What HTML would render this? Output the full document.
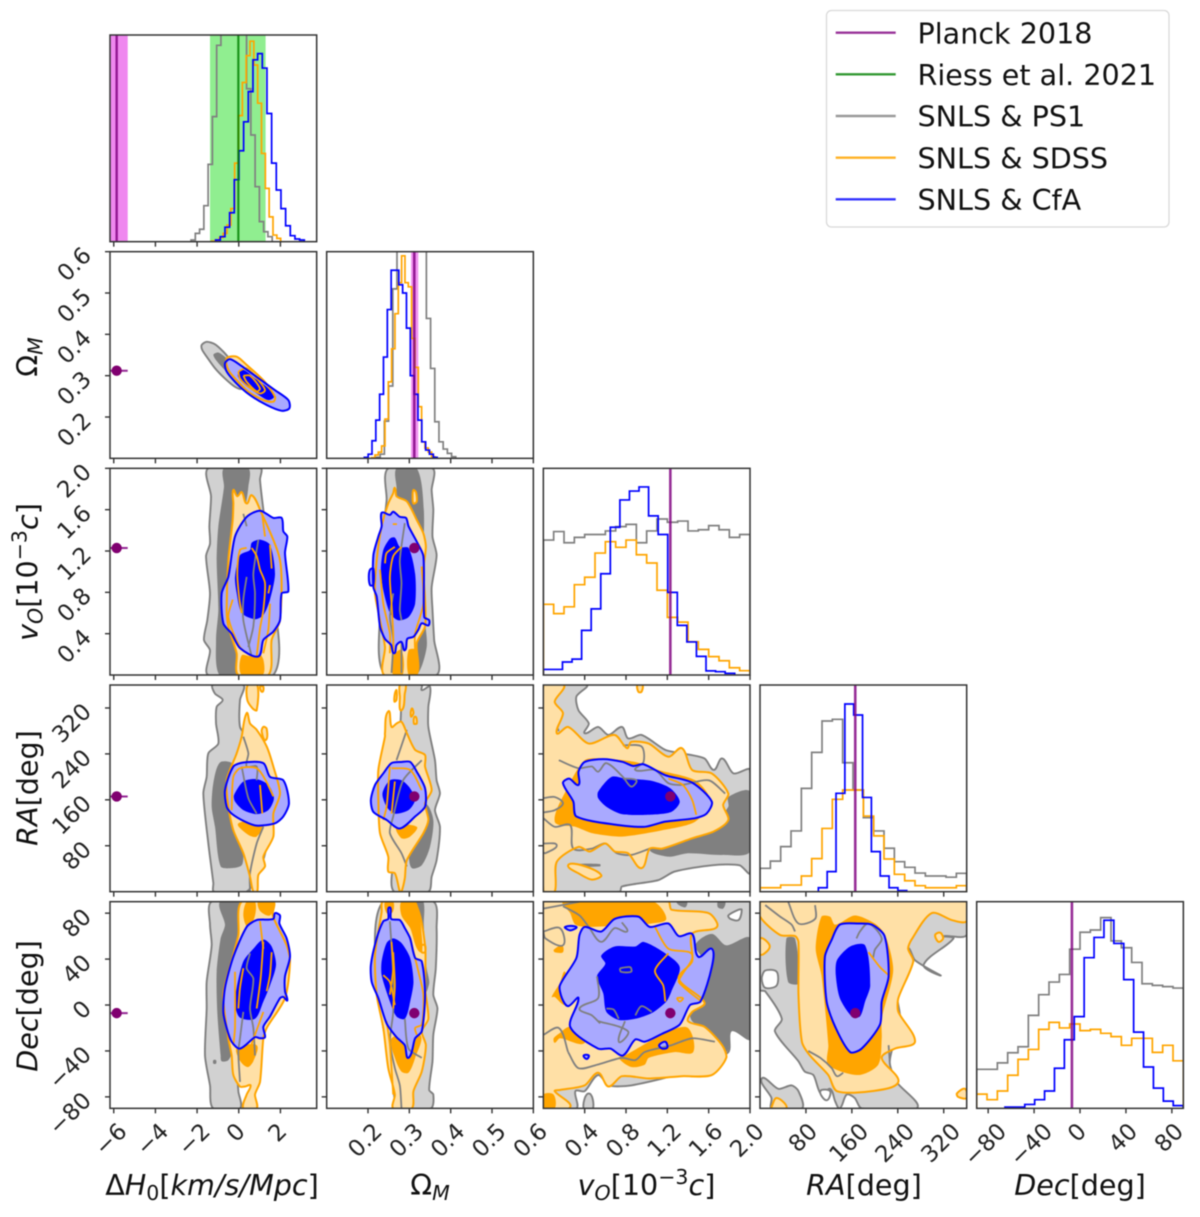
<!DOCTYPE html>
<html lang="en">
<head>
<meta charset="utf-8">
<title>Corner plot of cosmological parameters</title>
<style>
html,body{margin:0;padding:0;background:#fff;}
svg{display:block;font-family:"DejaVu Sans","Liberation Sans",sans-serif;filter:blur(0.4px);}
</style>
</head>
<body>
<svg id="corner-plot" xmlns="http://www.w3.org/2000/svg" width="1200" height="1217" viewBox="0 0 1200 1217">
<rect x="0" y="0" width="1200" height="1217" fill="#ffffff"/>
<g id="plots"></g>

<g font-size="28.6" fill="#111" text-anchor="middle">
<text x="212" y="1195">Δ<tspan font-style="italic">H</tspan><tspan font-size="20.5" dy="5">0</tspan><tspan dy="-5">[</tspan><tspan font-style="italic">km</tspan><tspan font-style="italic">/s/Mpc</tspan>]</text>
<text x="430" y="1195">Ω<tspan font-size="20.5" dy="5" font-style="italic">M</tspan></text>
<text x="646.5" y="1195"><tspan font-style="italic">v</tspan><tspan font-size="20.5" dy="5" font-style="italic">O</tspan><tspan dy="-5">[10</tspan><tspan font-size="20.5" dy="-11">−3</tspan><tspan dy="11" font-style="italic">c</tspan>]</text>
<text x="864" y="1195"><tspan font-style="italic">RA</tspan>[deg]</text>
<text x="1080" y="1195"><tspan font-style="italic">Dec</tspan>[deg]</text>
</g>

<g font-size="28.6" fill="#111" text-anchor="middle">
<text transform="translate(37.5,357) rotate(-90)">Ω<tspan font-size="20.5" dy="5" font-style="italic">M</tspan></text>
<text transform="translate(37.5,572) rotate(-90)"><tspan font-style="italic">v</tspan><tspan font-size="20.5" dy="5" font-style="italic">O</tspan><tspan dy="-5">[10</tspan><tspan font-size="20.5" dy="-11">−3</tspan><tspan dy="11" font-style="italic">c</tspan>]</text>
<text transform="translate(37.5,788) rotate(-90)"><tspan font-style="italic">RA</tspan>[deg]</text>
<text transform="translate(37.5,1006) rotate(-90)"><tspan font-style="italic">Dec</tspan>[deg]</text>
</g>

<g>
<rect x="826.5" y="10.5" width="342.5" height="216.5" rx="5" ry="5" fill="#ffffff" stroke="#d9d9d9" stroke-width="1.3"/>
<g>
<line x1="835.7" x2="895.7" y1="32.7" y2="32.7" stroke="#800080" stroke-opacity="0.8" stroke-width="2.4"/>
<text x="917.5" y="43.3" font-size="28.6" fill="#111">Planck 2018</text>
</g>
<g>
<line x1="835.7" x2="895.7" y1="74.3" y2="74.3" stroke="#008000" stroke-opacity="0.8" stroke-width="2.4"/>
<text x="917.5" y="85" font-size="28.6" fill="#111">Riess et al. 2021</text>
</g>
<g>
<line x1="835.7" x2="895.7" y1="116" y2="116" stroke="#808080" stroke-opacity="0.8" stroke-width="2.4"/>
<text x="917.5" y="126.6" font-size="28.6" fill="#111">SNLS &amp; PS1</text>
</g>
<g>
<line x1="835.7" x2="895.7" y1="157.7" y2="157.7" stroke="#ffa500" stroke-opacity="0.85" stroke-width="2.4"/>
<text x="917.5" y="168.3" font-size="28.6" fill="#111">SNLS &amp; SDSS</text>
</g>
<g>
<line x1="835.7" x2="895.7" y1="199.3" y2="199.3" stroke="#0000ff" stroke-opacity="0.8" stroke-width="2.4"/>
<text x="917.5" y="210" font-size="28.6" fill="#111">SNLS &amp; CfA</text>
</g>
</g>
</svg>

<script>
/* ---------- axis ranges and ticks ---------- */
const h0Range=[-6.18,3.74];
const omRange=[0.1,0.6];
const vRange=[0,2];
const raRange=[0,360];
const decRange=[-90,90];
const h0Ticks=[-6,-4,-2,0,2];
const omTicks=[0.2,0.3,0.4,0.5,0.6];
const vTicks=[0.4,0.8,1.2,1.6,2.0];
const raTicks=[80,160,240,320];
const decTicks=[-80,-40,0,40,80];
const h0TickLabels=['−6','−4','−2','0','2'];
const omTickLabels=['0.2','0.3','0.4','0.5','0.6'];
const vTickLabels=['0.4','0.8','1.2','1.6','2.0'];
const raTickLabels=['80','160','240','320'];
const decTickLabels=['−80','−40','0','40','80'];

/* ---------- reference values ---------- */
const planckValues=[-5.86,0.312,1.229,165.9,-7.06];
const planckH0Band=[-6.39,-5.33];
const planckOmBand=[0.304,0.3217];
const riessH0Value=[-0.02];
const riessH0Band=[-1.38,1.29];

/* ---------- 1D histograms: first bin edge, bin width, heights in % of panel ---------- */
const h0GrayBins=[-2.29,0.205];
const h0Gray=[0.8,4,6,17.4,37.4,60.5,95,115,120,125,125,120,115,74,51.6,26.6,9.7,4.8,2.4];
const h0OrangeBins=[-1.3,0.184];
const h0Orange=[0.3,0.8,2,4,8,16,38,61,77,90,97,85.5,67,42.7,25.8,12,3.2,1.6];
const h0BlueBins=[-1.11,0.224];
const h0Blue=[0.8,2.4,7,14,30,44,58,72.6,88,91,84,62,38,25,16,7.7,2.9,1.3,0.8];

const omGrayBins=[0.2193,0.01016];
const omGray=[0.5,2,18,35,82,110,115,120,120,120,115,110,67.7,43.5,17.7,8,4.5,2.4,0.8];
const omOrangeBins=[0.2088,0.00806];
const omOrange=[0.3,1.6,3,6,19,37,53,70,85,98,85,83,58,44,25,8,5,3,0.8];
const omBlueBins=[0.1911,0.00927];
const omBlue=[0.5,2,8.5,18.5,31,49,72,91,91,84,80,63,40,31,18.5,8,4,2,0.5];

const vGrayBins=[0,0.1];
const vGray=[65.3,69.4,64,66.6,68,68,69.7,71.8,72.9,64,69.7,75.5,73.9,74.5,69.7,70.3,72.3,70.3,66.6,68];
const vOrangeBins=[0,0.1];
const vOrange=[34.2,29.7,33,43.7,47.3,59,64.5,61.8,65.3,58.2,54.2,41,27.9,25.6,16.1,12.4,8.9,6.9,3.5,2.1];
const vBlueBins=[0,0.0926];
const vBlue=[2.7,2.7,6.3,7.7,21.6,32,49,71.5,84.7,89,91,77,68,40,24,16,9,2,1.6,0.8];

const raGrayBins=[0,18];
const raGray=[11.3,14.8,21.8,29.4,50,67.4,82.6,83.4,62.4,49.2,35.8,29.4,21,14.5,11.8,9,7.6,7.6,7,8.9];
const raOrangeBins=[0,18];
const raOrange=[1.9,1.9,3.2,3.2,7.6,16,30.6,44.7,49.2,49.2,36.6,27,15.8,8.4,5.3,2.9,1.9,1.9,1.9,2.9];
const raBlueBins=[101.6,15.4];
const raBlue=[1.9,9.7,47.6,90.8,85.5,45.6,19.4,7.6,1.9,0.5];

const decGrayBins=[-90,9];
const decGray=[18.9,18.9,22,26.9,29.8,45,55,61.1,64.8,77,85.2,86.3,92.3,81,77.7,70.6,60.3,59.5,58.9,58.2];
const decOrangeBins=[-90,9];
const decOrange=[6.9,4.2,8.4,16,23.7,28.5,38.2,41.6,38.9,40.8,37.6,38.2,36.3,34.7,30.5,33.9,33.9,27.1,30.5,23];
const decBlueBins=[-65.35,8.62];
const decBlue=[0.6,0.6,1.9,4.2,8.4,19.4,33.2,44.4,72.9,82.7,91,79.8,62.3,36.9,20,9.8,3.5,1.3];

/* ---------- 2D contours: flat x,y pairs in data units ---------- */
/* Omega vs H0 */
const h0Om_g1=[-1.78,.374,-1.54,.382,-1.14,.376,-.74,.358,-.34,.334,.06,.305,.14,.269,-.18,.273,-.66,.293,-1.14,.318,-1.54,.346,-1.75,.362];
const h0Om_g2=[-1.22,.35,-.98,.356,-.5,.338,-.1,.31,-.02,.281,-.5,.305,-.9,.326];
const h0Om_o1=[-.58,.342,-.1,.346,.38,.326,1.18,.289,1.74,.249,1.66,.237,1.18,.241,.46,.261,-.1,.289,-.5,.314];
const h0Om_b1=[-.66,.33,-.42,.34,.06,.326,.86,.297,1.74,.265,2.38,.241,2.43,.221,2.06,.215,1.34,.229,.54,.253,-.1,.281,-.58,.31];
const h0Om_b2=[-.05,.301,.22,.314,.78,.293,1.34,.273,1.69,.249,1.42,.241,.86,.257,.22,.281];
const h0Om_oL1=[-.02,.31,.38,.318,.94,.289,1.26,.265,1.02,.257,.46,.273,.06,.293,-.02,.31];
const h0Om_oL2=[.22,.3,.54,.3,1.02,.269,.86,.262,.38,.285,.22,.3];

/* velocity vs H0 */
const h0V_g1=[-1.46,2,-1.33,1.73,-1.41,1.44,-1.38,1.27,-1.57,1.15,-1.38,.79,-1.51,.53,-1.67,.34,-1.38,.24,-1.46,0,1.66,0,1.66,.79,1.18,1.6,1.02,1.89,1.05,2];
const h0V_g2=[-.71,2,-.71,1.82,-.98,1.44,-1.06,1.11,-.98,.63,-1.09,.34,-.93,0,.06,0,.38,.79,.22,1.44,.46,1.82,.46,2];
const h0V_o1=[-.26,1.79,-.07,1.73,.14,1.77,.38,1.66,.62,1.74,1.02,1.6,1.98,1.11,1.98,.53,1.58,.34,1.42,0,-.02,0,-.1,.21,-.5,.47,-.58,.63,-.5,1.11,-.29,1.5,-.26,1.66];
const h0V_o2=[.14,0,.14,.19,.62,.18,.86,.23,1.18,.15,1.14,0];
const h0V_b1=[1.02,1.59,1.66,1.52,2.06,1.52,2.14,1.39,2.33,1.34,2.22,1.18,2.38,.81,2.06,.79,1.98,.53,1.66,.42,1.18,.34,.94,.18,.06,.26,-.34,.4,-.74,.5,-.82,.79,-.5,.95,-.18,1.34,.38,1.53];
const h0V_b2=[.62,1.28,1.02,1.31,1.5,1.26,1.74,.98,1.5,.73,1.18,.58,.78,.54,.14,.6,-.1,.79,-.18,.95,.06,1.16,.54,1.21];
const h0V_oL1=[.62,1.23,.86,1.15,1.02,1.02,1.26,.89,1.18,.63,1.02,.45,.86,.18];
const h0V_oL2=[1.5,1.26,1.58,1.03];
const h0V_oL3=[1.5,.87,1.42,.79];
const h0V_oL4=[.38,1.23,.06,1.21,-.07,.98,.03,.73,.14,.6];
const h0V_oL5=[-.29,.73,-.5,.56,.06,.27,.62,.18];
const h0V_oL6=[1.5,.69,1.42,.44,1.18,.21];
const h0V_oL7=[1.13,1.55,1.26,1.34];
const h0V_gL1=[.94,1.31,.7,.98,.78,.79,.7,.47,.46,.27];
const h0V_gL2=[.38,.95,.22,.73,.22,.53,.62,.18];
const h0V_gL3=[.22,1.56,.38,1.44];

/* velocity vs Omega */
const omV_g1=[.249,2,.245,1.69,.229,1.11,.229,.63,.241,0,.366,0,.36,.34,.356,.63,.354,.85,.366,1.16,.356,1.34,.358,1.6,.354,1.79,.356,2];
const omV_g2=[.269,2,.269,1.79,.237,1.11,.245,.47,.277,0,.318,0,.342,.27,.338,.53,.334,1.11,.335,1.6,.318,2];
const omV_o1=[.265,1.81,.269,1.73,.294,1.68,.318,1.5,.334,1.37,.34,1.24,.334,1.02,.338,.73,.338,.47,.318,.31,.316,0,.239,0,.241,.27,.229,.53,.217,.79,.221,1.11,.233,1.44,.249,1.66,.261,1.76];
const omV_o3=[.31,1.79,.316,1.77,.318,1.68,.31,1.66,.308,1.73];
const omV_o2a=[.26,.18,.261,0,.284,0,.281,.24];
const omV_o2b=[.298,.24,.298,0,.318,0,.318,.24];
const omV_b1=[.233,1.57,.253,1.55,.261,1.58,.277,1.53,.292,1.52,.298,1.44,.318,1.29,.334,1.15,.336,.56,.348,.53,.346,.48,.33,.5,.322,.44,.31,.37,.295,.35,.289,.24,.281,.32,.269,.29,.263,.21,.256,.29,.241,.35,.229,.47,.221,.76,.213,.85,.213,1.16,.225,1.34,.233,1.44];
const omV_b3=[.205,1.02,.213,1.03,.213,.87,.205,.87,.202,.95];
const omV_b2=[.253,1.32,.265,1.33,.277,1.24,.298,1.23,.314,.98,.314,.69,.298,.56,.273,.53,.253,.6,.237,.82,.231,1.02,.237,1.21];
const omV_oL1=[.281,1.24,.261,1.15,.253,.95,.257,.69,.261,.4,.261,.21];
const omV_oL2=[.241,1.08,.245,1.18,.265,1.24];
const omV_oL3=[.229,1.02,.237,.69,.253,.4,.253,.21];
const omV_oL4=[.33,1.05,.334,.69,.314,.4,.314,.21];
const omV_oL5=[.26,1.46,.27,1.46];
const omV_gL1=[.289,1.47,.277,1.11,.281,.89,.277,.63,.281,.53];
const omV_gL2=[.261,.79,.253,.56,.261,.34,.257,.02];
const omV_gL3=[.281,.32,.281,.02];

/* RA vs H0 */
const h0Ra_g1=[-1.25,360,-1.14,345,-.77,334,-1.06,322,-1.09,293,-.98,258,-1.46,241,-1.54,200,-1.7,171,-1.46,84,-1.22,15,-1.19,0,.38,0,1.18,55,1.66,171,.38,270,.06,287,.06,334,.22,360];
const h0Ra_g2=[-.9,225,-.26,222,.06,171,.22,67,.14,46,-.34,41,-.87,44,-1.14,113,-1.3,148,-1.22,189];
const h0Ra_o1=[.38,311,.54,293,.86,282,1.34,253,1.66,218,1.98,171,1.66,136,1.66,96,1.18,61,1.26,44,.94,29,.89,0,.7,0,.54,26,.22,67,-.26,107,-.5,148,-.58,194,-.1,241,.14,270];
const h0Ra_o3=[.43,360,.89,360,.86,316,.67,319,.41,334];
const h0Ra_o4=[1.18,287,1.34,284,1.29,264,1.1,279];
const h0Ra_o5=[1.02,357,1.18,357,1.13,348];
const h0Ra_o2=[-.02,119,1.18,119,.86,96,.46,99];
const h0Ra_b1=[-.66,177,-.26,218,.22,225,1.18,224,1.5,200,2.14,194,2.41,154,2.14,131,1.74,119,.86,115,.3,122,-.34,136,-.58,148];
const h0Ra_b2=[-.23,168,.22,192,.86,196,1.42,186,1.69,163,1.42,142,.86,135,.22,142,-.18,157];
const h0Ra_oL1=[-.34,142,-.26,200,.06,215,.86,215,1.29,194,1.66,166];
const h0Ra_oL2=[1.02,186,1.13,136];
const h0Ra_gL1=[.22,270,.46,241,.38,218,.86,218,.86,194];
const h0Ra_gL2=[.14,218,.46,163,.86,136];
const h0Ra_gL3=[1.18,113,.86,84,.54,32,.54,0];

/* RA vs Omega */
const omRa_g1=[.289,360,.33,360,.33,351,.35,357,.346,322,.346,287,.362,229,.366,194,.374,171,.362,142,.374,113,.366,55,.354,26,.346,0,.263,0,.261,61,.245,84,.225,171,.253,258,.277,287,.281,345];
const omRa_g2=[.338,154,.358,125,.35,78,.33,46,.306,41,.298,61,.277,113,.277,142];
const omRa_o1=[.249,314,.257,287,.269,293,.281,296,.294,276,.314,247,.338,238,.338,218,.354,177,.338,154,.346,125,.334,102,.294,55,.289,23,.281,0,.277,0,.265,32,.249,35,.249,61,.229,102,.225,160,.225,212,.241,270,.241,276];
const omRa_o3=[.269,351,.269,334,.264,331,.265,345];
const omRa_o4=[.306,319,.31,311,.304,305];
const omRa_o5=[.314,305,.318,293,.311,293];
const omRa_o6=[.277,360,.291,360,.289,345,.281,316,.277,340];
const omRa_o2=[.269,113,.318,113,.302,96,.281,93];
const omRa_b1=[.207,160,.217,186,.237,206,.257,224,.281,226,.302,226,.318,209,.338,180,.338,148,.314,131,.277,110,.245,125,.213,139];
const omRa_b2=[.235,171,.253,194,.281,194,.302,180,.314,160,.298,142,.265,136,.245,148];
const omRa_oL1=[.253,218,.245,148,.237,125];
const omRa_oL2=[.265,192,.257,136];
const omRa_oL3=[.257,215,.302,212,.33,177];
const omRa_gL1=[.33,229,.285,194,.261,131,.253,102,.281,67,.294,44];
const omRa_gL2=[.294,282,.269,229];

/* Dec vs H0 */
const h0Dec_g1=[-1.3,90,-1.38,70,-1.3,52,-1.54,20,-1.54,-3,-1.62,-44,-1.38,-70,-1.22,-90,.06,-90,-.02,-75,-.02,-58,.86,-35,1.34,38,1.02,90];
const h0Dec_g2=[-.9,90,-.66,70,-.87,58,-1.06,29,-1.03,-6,-.87,-44,-.82,-49,-.5,-48,-.26,-38,-.26,38,.22,67,.22,90];
const h0Dec_g3=[-1.22,-48,-1.09,-48,-1.09,-51,-1.22,-51];
const h0Dec_o1=[.14,90,1.66,90,1.63,78,2.3,52,2.46,38,2.22,6,1.34,-20,1.18,-29,1.02,-67,.78,-78,.86,-90,.22,-90,.38,-78,.57,-70,.3,-71,.06,-71,-.26,-61,-.34,-44,-.5,-29,-.74,9,-.26,44,-.02,61];
const h0Dec_o2a=[.38,90,.78,90,.78,78,.46,68,.22,78];
const h0Dec_o2b=[.94,90,1.66,90,1.5,78,1.02,82];
const h0Dec_o2c=[-.1,-38,.86,-35,.7,-49,.46,-54,.22,-52,-.02,-46];
const h0Dec_b1=[1.74,80,1.98,78,1.95,71,2.3,58,2.46,42,2.22,25,2.22,12,2.33,4,2.14,7,1.98,6,1.5,-10,1.18,-19,1.26,-28,1.02,-29,.78,-28,.06,-38,-.34,-32,-.58,-20,-.74,-6,-.66,15,-.26,42,.38,68,.86,74,1.66,75];
const h0Dec_b2=[1.18,57,1.58,51,1.79,35,1.5,17,1.18,3,.78,-12,.06,-11,-.18,0,-.1,15,.22,38,.7,49];
const h0Dec_oL1=[1.18,55,1.05,23,.86,-3];
const h0Dec_oL2=[1.58,46,1.5,26,1.34,12];
const h0Dec_oL3=[.22,32,.06,15,-.02,-3];
const h0Dec_oL4=[-.18,29,-.18,-20,-.26,-35];
const h0Dec_oL5=[1.02,73,1.18,49];
const h0Dec_oL6=[1.18,-6,.54,-38,.3,-52];
const h0Dec_gL1=[.54,45,.38,32,.7,23,.54,-3,.7,-20,.78,-44];
const h0Dec_gL2=[.22,-6,.06,-29,-.02,-41,.06,-67];

/* Dec vs Omega */
const omDec_g1=[.237,90,.217,38,.237,-20,.261,-55,.273,-90,.352,-90,.358,-78,.348,-74,.356,-49,.358,-26,.368,-3,.358,9,.364,32,.366,67,.358,90];
const omDec_g2=[.314,90,.334,90,.335,70,.342,32,.348,19,.334,9,.302,38];
const omDec_o1=[.236,90,.31,90,.338,52,.338,15,.346,-12,.33,-23,.34,-35,.33,-58,.31,-75,.306,-90,.261,-90,.265,-78,.249,-55,.237,-20,.221,9,.217,44,.233,81];
const omDec_o2a=[.281,90,.316,90,.33,61,.326,46,.302,67,.281,78];
const omDec_o2b=[.241,90,.261,90,.26,81,.245,80];
const omDec_o2c=[.257,-29,.326,-26,.314,-46,.298,-59,.281,-58,.265,-46];
const omDec_o3=[.33,52,.338,52,.338,46,.33,46];
const omDec_b1=[.252,85,.256,75,.277,74,.289,67,.302,58,.314,41,.33,38,.338,9,.33,-23,.314,-29,.298,-46,.289,-35,.269,-28,.245,-16,.225,6,.209,20,.207,35,.221,58,.237,73,.249,75];
const omDec_b2=[.261,58,.281,54,.302,41,.31,20,.302,3,.289,-12,.269,-10,.253,3,.233,26,.233,38,.245,54];
const omDec_oL1=[.257,55,.261,32,.253,9];
const omDec_oL2=[.237,26,.253,20,.265,0];
const omDec_oL3=[.261,46,.265,17,.261,-3];
const omDec_oL4=[.302,58,.322,29,.334,9,.33,-17,.314,-20,.318,-26];
const omDec_oL5=[.245,-14,.253,-35,.261,-78];
const omDec_gL1=[.253,73,.261,26,.261,-6,.253,-32,.265,-55,.277,-70,.281,-90];
const omDec_gL2=[.289,-12,.298,-38,.33,-46];

/* RA vs velocity */
const vRa_g1=[0,360,.42,360,.32,340,.34,316,.44,293,.4,276,.53,287,.63,273,.76,287,.82,267,.95,273,1.18,247,1.34,241,1.56,232,1.65,212,1.73,232,1.84,206,2,212,2,32,1.9,46,1.63,46,1.27,35,1.11,20,.76,9,.74,0,0,0];
const vRa_g2=[1.79,165,2,174,2,70,1.73,64,1.4,67,1.21,61,1.03,75,1.31,102,1.66,122,1.79,148];
const vRa_g3=[.32,48,.55,48,.55,44,.34,44];
const vRa_g4=[.32,267,.35,267,.36,260,.32,260];
const vRa_g5=[.13,284,.15,284,.15,279];
const vRa_o1=[0,360,.2,360,.11,331,.19,311,.13,276,.24,287,.44,258,.69,273,.81,250,.85,261,1.02,258,1.21,235,1.34,250,1.44,212,1.63,206,1.79,171,1.74,151,1.79,125,1.65,105,1.44,93,1.15,75,1.03,75,.95,41,.82,67,.69,70,.6,84,.45,70,.34,78,.13,52,.11,0,0,0];
const vRa_o3=[.24,46,.37,46,.56,29,.47,21,.34,32];
const vRa_o4=[.91,360,.96,360,.95,348,.92,348];
const vRa_o2=[.11,122,.24,183,.4,229,.56,232,.89,226,1.11,212,1.47,194,1.61,160,1.47,122,1.15,107,.76,96,.47,102,.31,113];
const vRa_b1=[.19,189,.25,197,.34,186,.34,209,.4,226,.58,231,.77,226,.87,219,.97,222,1.18,203,1.44,190,1.63,157,1.58,136,1.47,128,1.18,122,.98,113,.73,116,.32,131,.29,157];
const vRa_b2=[.53,174,.66,200,.79,197,1.05,193,1.23,180,1.32,157,1.24,139,1.02,134,.76,135,.61,148,.53,163];
const vRa_oL1=[1.21,197,1.35,186,1.44,160,1.48,134];
const vRa_gL1=[0,163,.11,165,.19,154,.11,142,0,138];
const vRa_gL2=[0,128,.11,113,.26,116,.29,75,.47,75,.6,84,.71,67,.85,64,1.03,75];
const vRa_gL3=[0,84,.13,81,.02,67,0,68];
const vRa_gL4=[.15,229,.34,215,.47,218,.53,209,.61,224,.77,200,.85,183,.9,194,.77,197];
const vRa_gL5=[.77,255,.95,253,.97,226,.89,212,1.08,212,1.21,189,1.34,186,1.6,194,1.76,171];

/* Dec vs velocity */
const vDec_g1=[0,90,2,90,2,-29,1.82,-22,1.79,-41,1.56,-49,1.44,-62,1.37,-55,1.27,-61,.85,-70,.63,-70,.53,-61,.4,-75,.31,-75,.32,-90,0,-90];
const vDec_g6=[.39,-90,.44,-77,.48,-90];
const vDec_hole=[1.79,78,1.89,83,1.92,83,1.89,74,1.81,75];
const vDec_g2=[1.47,52,1.63,62,1.77,52,2,58,2,-29,1.82,-23,1.77,-41,1.63,-26,1.44,-14,1.42,-6,1.53,3,1.56,38];
const vDec_g7=[1.92,41,2,41,2,35,1.94,36];
const vDec_g3=[1.69,90,1.76,90,1.74,84,1.69,85];
const vDec_g5=[1.29,90,1.39,90,1.37,85];
const vDec_o1=[0,90,1.21,90,1.24,83,1.6,80,1.68,68,1.44,62,1.44,38,1.31,23,1.56,2,1.44,-6,1.4,-14,1.56,-19,1.73,-35,1.77,-46,1.63,-61,1.34,-62,1.02,-64,.76,-62,.63,-71,.53,-59,.4,-70,.16,-74,.11,-75,.26,-89,0,-90];
const vDec_o2a=[.19,90,1.06,90,1.19,75,1.05,71,.85,70,.44,68,.31,70,.26,80];
const vDec_o2b=[.79,-44,1.21,-23,1.4,-20,1.45,-41,1.27,-41,1.02,-46,.98,-52,.85,-54,.73,-46];
const vDec_o2c=[.08,7,.16,19,.21,29,.24,9,.21,0,.11,7];
const vDec_o2d=[.1,48,.18,52,.19,46,.11,46];
const vDec_o2e=[0,-78,.1,-78,.11,-90,0,-90];
const vDec_o2f=[.1,-29,.15,-25,.26,-19,.4,-33,.16,-29,.11,-33];
const vDec_b1=[.4,68,.56,64,.69,75,.92,77,1.03,68,1.21,71,1.31,60,1.44,62,1.5,42,1.63,49,1.63,33,1.52,3,1.42,0,1.32,-17,1.15,-25,.98,-32,.89,-30,.77,-44,.65,-38,.53,-38,.26,-19,.34,6,.24,-1,.18,6,.16,17,.32,41,.35,61];
const vDec_b2=[.69,51,.89,51,.97,55,1.18,45,1.32,33,1.24,12,1.19,3,1.05,-7,.89,-12,.73,-13,.61,-6,.58,10,.52,25,.6,36,.56,43];
const vDec_b3=[.21,68,.32,68,.26,65];
const vDec_b4=[.39,-44,.44,-44,.42,-47];
const vDec_b5=[1.12,-35,1.18,-32,1.2,-37,1.15,-38];
const vDec_gL1=[0,84,.18,87,.35,90];
const vDec_gL2=[.19,86,.35,78,.44,68,.56,55,.69,67,.81,64,.76,72];
const vDec_gL3=[0,64,.16,67,.19,52,.02,58,0,64];
const vDec_gL4=[.53,-14,.82,-23,.73,-32,.79,-14];
const vDec_gL5=[.74,32,.84,33,.85,29,.75,29,.74,32];
const vDec_gL6=[.61,-3,.68,-4,.73,-12];
const vDec_gL7=[.89,-9,.95,-1,1.05,-6];
const vDec_gL8=[.24,-41,.34,-55,.52,-52,.76,-46,.89,-48,.98,-41,1.24,-35,1.44,-29,1.66,-32];
const vDec_gL9=[.52,25,.53,6,.35,-3,.47,-9,.55,-16];
const vDec_gL10=[0,-26,.15,-20,.24,-41];
const vDec_oL1=[1.21,45,1.08,30,1.16,17,1.18,3];
const vDec_oL2=[1.08,68,1.21,49,1.44,44,1.34,26,1.31,20,1.53,3];
const vDec_oL3=[1.29,6,1.35,6,1.32,3,1.29,6];

/* Dec vs RA */
const raDec_g1=[0,90,360,90,360,61,319,60,337,58,285,35,314,26,270,39,258,49,238,12,244,-12,226,-49,238,-67,273,-90,177,-90,165,-81,151,-78,139,-90,131,-84,122,-73,107,-78,93,-61,78,-58,67,-49,26,-23,38,-12,9,12,0,13];
const raDec_g4=[3,-64,32,-73,55,-70,67,-75,73,-90,20,-90,20,-81];
const raDec_hole1=[9,30,29,29,29,17,9,15,3,23];
const raDec_hole2=[105,-75,122,-75,116,-83];
const raDec_g2=[46,58,61,58,67,19,49,20];
const raDec_g3=[73,-20,78,-19,75,-26];
const raDec_o1=[0,77,35,61,61,60,67,55,67,9,73,-32,87,-44,119,-61,134,-75,195,-75,241,-67,212,-46,235,-38,270,-32,241,-6,241,6,267,38,258,49,264,57,299,80,334,74,360,73,360,90,0,90];
const raDec_o3=[20,-89,29,-81,46,-90,20,-90];
const raDec_o4=[0,58,17,51,0,44];
const raDec_o5=[305,61,314,63,319,58,311,55];
const raDec_o6=[343,-77,357,-73,360,-81,345,-80];
const raDec_o2=[107,77,122,77,131,70,165,78,200,71,218,61,232,30,212,-12,212,-29,206,-52,171,-61,119,-52,119,-35,107,26,97,49];
const raDec_b1=[139,70,171,71,195,70,217,60,224,25,212,3,209,-17,177,-38,157,-41,131,-19,116,3,113,42,125,57];
const raDec_b2=[157,51,183,52,192,17,183,3,174,-10,160,-10,139,6,132,26,134,39];
const raDec_gL1=[9,87,35,77,55,70,61,64];
const raDec_gL2=[49,90,67,71,96,75,96,87];
const raDec_gL3=[168,58,174,64,189,71,212,58,200,48,197,41];
const raDec_gL4=[84,-40,105,-46,125,-55,134,-62,145,-59];
const raDec_gL5=[224,-35,226,-49];
const raDec_oL1=[189,46,209,33,224,26];

/* ---------- geometry and axis functions ---------- */
const NS='http://www.w3.org/2000/svg';
const root=document.getElementById('plots');
const ranges=[h0Range,omRange,vRange,raRange,decRange];
const tickSets=[h0Ticks,omTicks,vTicks,raTicks,decTicks];
const tickLabelSets=[h0TickLabels,omTickLabels,vTickLabels,raTickLabels,decTickLabels];
const paramNames=['h0','omega','velocity','ra','dec'];
const PANEL=206.67, STEP=216.67, X0=110, Y0=35;
const panelLeft=c=>X0+STEP*c;
const panelTop=r=>Y0+STEP*r;
function xScale(c,v){const d=ranges[c];return panelLeft(c)+(v-d[0])/(d[1]-d[0])*PANEL;}
function yScale(r,v){const d=ranges[r];return panelTop(r)+PANEL-(v-d[0])/(d[1]-d[0])*PANEL;}
const histY=(r,pct)=>panelTop(r)+PANEL-pct/100*PANEL;

function make(tag,attrs,parent){
  const e=document.createElementNS(NS,tag);
  for(const k in attrs)e.setAttribute(k,attrs[k]);
  parent.appendChild(e);
  return e;
}
function panelGroup(name,c,r){
  const id='clip-'+c+'-'+r;
  const clip=make('clipPath',{id:id},root);
  make('rect',{x:panelLeft(c),y:panelTop(r),width:PANEL,height:PANEL},clip);
  const outer=make('g',{},root);
  
  
  const inner=make('g',{'clip-path':'url(#'+id+')'},outer);
  return {outer:outer,inner:inner};
}
/* smooth curve through the data vertices after they pass through the axis functions */
function pathFrom(arr,c,r,close){
  const pts=[];
  for(let i=0;i<arr.length;i+=2)pts.push([xScale(c,arr[i]),yScale(r,arr[i+1])]);
  const n=pts.length;
  const at=i=>close?pts[(i+n)%n]:pts[Math.max(0,Math.min(n-1,i))];
  const unit=(a,b)=>{const dx=b[0]-a[0],dy=b[1]-a[1],l=Math.hypot(dx,dy)||1;return [dx/l,dy/l];};
  let d='M'+pts[0][0].toFixed(2)+' '+pts[0][1].toFixed(2);
  const last=close?n:n-1;
  for(let i=0;i<last;i++){
    const p0=at(i-1),p1=at(i),p2=at(i+1),p3=at(i+2);
    const len=Math.hypot(p2[0]-p1[0],p2[1]-p1[1])*0.25;
    const t1=unit(p0,p2),t2=unit(p1,p3);
    d+='C'+(p1[0]+t1[0]*len).toFixed(2)+' '+(p1[1]+t1[1]*len).toFixed(2)+' '
      +(p2[0]-t2[0]*len).toFixed(2)+' '+(p2[1]-t2[1]*len).toFixed(2)+' '
      +p2[0].toFixed(2)+' '+p2[1].toFixed(2);
  }
  return d+(close?'Z':'');
}
function fillShape(g,arr,c,r,fill,stroke){
  const p=make('path',{d:pathFrom(arr,c,r,true),fill:fill,stroke:stroke||'none','stroke-width':1.9,'stroke-linejoin':'round'},g);
  
  
}
function strokeShape(g,arr,c,r,color,close){
  const p=make('path',{d:pathFrom(arr,c,r,close),fill:'none',stroke:color,'stroke-width':close?2:1.8,'stroke-linejoin':'round'},g);
  
  
}
const GRAY='#808080',ORANGE='#ffa500',BLUE='#0000ff';
const GRAY_L='#d1d1d1',ORANGE_L='#ffe0a6',BLUE_L='#a9a9ff';

function ticks(g,axis,c,r){
  const idx=axis==='x'?c:r;
  const values=tickSets[idx];
  for(let i=0;i<values.length;i++){
    const t=values[i];
    const a=axis==='x'
      ?{x1:xScale(c,t),x2:xScale(c,t),y1:panelTop(r)+PANEL,y2:panelTop(r)+PANEL+5}
      :{x1:panelLeft(c)-5,x2:panelLeft(c),y1:yScale(r,t),y2:yScale(r,t)};
    const l=make('line',Object.assign(a,{stroke:'#333','stroke-width':1.4}),g);
    
    
  }
}
function spine(g,c,r){
  const s=make('rect',{x:panelLeft(c),y:panelTop(r),width:PANEL,height:PANEL,fill:'none',stroke:'#333','stroke-width':1.5},g);
  
  
}
function xTickLabels(c){
  const values=tickSets[c],labels=tickLabelSets[c];
  for(let i=0;i<values.length;i++){
    const t=make('text',{'font-size':23,fill:'#222','text-anchor':'middle','dominant-baseline':'central'},root);
    t.textContent=labels[i];
    
    
    const half=(t.getComputedTextLength()+25)*0.7071/2;
    t.setAttribute('transform','translate('+(xScale(c,values[i])-2.5)+','+(1119+half)+') rotate(-45)');
  }
}
function yTickLabels(r){
  const values=tickSets[r],labels=tickLabelSets[r];
  for(let i=0;i<values.length;i++){
    const t=make('text',{'font-size':23,fill:'#222','text-anchor':'middle','dominant-baseline':'central'},root);
    t.textContent=labels[i];
    
    
    const half=(t.getComputedTextLength()+25)*0.7071/2;
    t.setAttribute('transform','translate('+(96.5-half)+','+(yScale(r,values[i])+half-8.7)+') rotate(-45)');
  }
}
function histogram(g,c,r,bins,values,color){
  let x=bins[0];
  let d='M'+xScale(c,x).toFixed(2)+' '+histY(r,0).toFixed(2);
  for(let i=0;i<values.length;i++){
    const y=histY(r,values[i]).toFixed(2);
    d+='L'+xScale(c,x).toFixed(2)+' '+y;
    x+=bins[1];
    d+='L'+xScale(c,x).toFixed(2)+' '+y;
  }
  d+='L'+xScale(c,x).toFixed(2)+' '+histY(r,0).toFixed(2);
  const p=make('path',{d:d,fill:'none',stroke:color,'stroke-width':1.7,'stroke-linejoin':'miter'},g);
  
  
}
function vband(g,c,r,range,color,op){
  const b=make('rect',{x:xScale(c,range[0]),y:panelTop(r),width:xScale(c,range[1])-xScale(c,range[0]),height:PANEL,fill:color,'fill-opacity':op},g);
  
  
}
function vline(g,c,r,v,color,w){
  const l=make('line',{x1:xScale(c,v),x2:xScale(c,v),y1:panelTop(r),y2:panelTop(r)+PANEL,stroke:color,'stroke-opacity':.82,'stroke-width':w},g);
  
  
}
function planckMarker(g,c,r){
  if(c===0){
    const e=make('line',{x1:xScale(0,planckH0Band[0]),x2:xScale(0,planckH0Band[1]),y1:yScale(r,planckValues[r]),y2:yScale(r,planckValues[r]),stroke:'#800080','stroke-opacity':.85,'stroke-width':2},g);
    
    
  }
  const m=make('circle',{cx:xScale(c,planckValues[c]),cy:yScale(r,planckValues[r]),r:5.2,fill:'#800070'},g);
  
  
}
function drawPair(c,r,grayFills,orangeFills,blueFills,grayLines,orangeLines,holes){
  const pg=panelGroup('panel-'+paramNames[r]+'-vs-'+paramNames[c],c,r);
  const g=pg.inner;
  (grayFills.light||[]).forEach(a=>fillShape(g,a,c,r,GRAY_L,GRAY));
  (holes||[]).forEach(a=>fillShape(g,a,c,r,'#ffffff',GRAY));
  (grayFills.dark||[]).forEach(a=>fillShape(g,a,c,r,GRAY));
  (orangeFills.light||[]).forEach(a=>fillShape(g,a,c,r,ORANGE_L));
  (orangeFills.dark||[]).forEach(a=>fillShape(g,a,c,r,ORANGE));
  (blueFills.light||[]).forEach(a=>fillShape(g,a,c,r,BLUE_L));
  (blueFills.dark||[]).forEach(a=>fillShape(g,a,c,r,BLUE));
  grayLines.forEach(a=>strokeShape(g,a,c,r,GRAY,false));
  (orangeFills.light||[]).forEach(a=>strokeShape(g,a,c,r,ORANGE,true));
  orangeLines.forEach(a=>strokeShape(g,a,c,r,ORANGE,false));
  (blueFills.light||[]).forEach(a=>strokeShape(g,a,c,r,BLUE,true));
  planckMarker(g,c,r);
  spine(pg.outer,c,r);
  ticks(pg.outer,'x',c,r);
  ticks(pg.outer,'y',c,r);
}
function drawDiagonal(i,grayBins,gray,orangeBins,orange,blueBins,blue,decorate,lineOver){
  const pg=panelGroup('histogram-'+paramNames[i],i,i);
  decorate(pg.inner);
  histogram(pg.inner,i,i,grayBins,gray,GRAY);
  histogram(pg.inner,i,i,orangeBins,orange,ORANGE);
  histogram(pg.inner,i,i,blueBins,blue,BLUE);
  lineOver(pg.inner);
  spine(pg.outer,i,i);
  ticks(pg.outer,'x',i,i);
}

/* ---------- diagonal panels ---------- */
drawDiagonal(0,h0GrayBins,h0Gray,h0OrangeBins,h0Orange,h0BlueBins,h0Blue,
  g=>{vband(g,0,0,planckH0Band,'#ee82ee',.95);vband(g,0,0,riessH0Band,'#90ee90',1);},
  g=>{vline(g,0,0,planckValues[0],'#800080',2.4);vline(g,0,0,riessH0Value[0],'#008000',2.2);});
drawDiagonal(1,omGrayBins,omGray,omOrangeBins,omOrange,omBlueBins,omBlue,
  g=>{vband(g,1,1,planckOmBand,'#ee82ee',.85);},
  g=>{vline(g,1,1,planckValues[1],'#800080',2.6);});
drawDiagonal(2,vGrayBins,vGray,vOrangeBins,vOrange,vBlueBins,vBlue,
  g=>{},
  g=>{vline(g,2,2,planckValues[2],'#800080',2.6);});
drawDiagonal(3,raGrayBins,raGray,raOrangeBins,raOrange,raBlueBins,raBlue,
  g=>{},
  g=>{vline(g,3,3,planckValues[3],'#800080',2.6);});
drawDiagonal(4,decGrayBins,decGray,decOrangeBins,decOrange,decBlueBins,decBlue,
  g=>{},
  g=>{vline(g,4,4,planckValues[4],'#800080',2.6);});

/* ---------- 2D panels ---------- */
drawPair(0,1,{light:[h0Om_g1],dark:[h0Om_g2]},{light:[h0Om_o1]},{light:[h0Om_b1],dark:[h0Om_b2]},[],[h0Om_oL1,h0Om_oL2]);
drawPair(0,2,{light:[h0V_g1],dark:[h0V_g2]},{light:[h0V_o1],dark:[h0V_o2]},{light:[h0V_b1],dark:[h0V_b2]},[h0V_gL1,h0V_gL2,h0V_gL3],[h0V_oL1,h0V_oL2,h0V_oL3,h0V_oL4,h0V_oL5,h0V_oL6,h0V_oL7]);
drawPair(1,2,{light:[omV_g1],dark:[omV_g2]},{light:[omV_o1,omV_o3],dark:[omV_o2a,omV_o2b]},{light:[omV_b1,omV_b3],dark:[omV_b2]},[omV_gL1,omV_gL2,omV_gL3],[omV_oL1,omV_oL2,omV_oL3,omV_oL4,omV_oL5]);
drawPair(0,3,{light:[h0Ra_g1],dark:[h0Ra_g2]},{light:[h0Ra_o1,h0Ra_o3,h0Ra_o4,h0Ra_o5],dark:[h0Ra_o2]},{light:[h0Ra_b1],dark:[h0Ra_b2]},[h0Ra_gL1,h0Ra_gL2,h0Ra_gL3],[h0Ra_oL1,h0Ra_oL2]);
drawPair(1,3,{light:[omRa_g1],dark:[omRa_g2]},{light:[omRa_o1,omRa_o3,omRa_o4,omRa_o5,omRa_o6],dark:[omRa_o2]},{light:[omRa_b1],dark:[omRa_b2]},[omRa_gL1,omRa_gL2],[omRa_oL1,omRa_oL2,omRa_oL3]);
drawPair(2,3,{light:[vRa_g1],dark:[vRa_g2,vRa_g3,vRa_g4,vRa_g5]},{light:[vRa_o1,vRa_o3,vRa_o4],dark:[vRa_o2]},{light:[vRa_b1],dark:[vRa_b2]},[vRa_gL1,vRa_gL2,vRa_gL3,vRa_gL4,vRa_gL5],[vRa_oL1]);
drawPair(0,4,{light:[h0Dec_g1],dark:[h0Dec_g2,h0Dec_g3]},{light:[h0Dec_o1],dark:[h0Dec_o2a,h0Dec_o2b,h0Dec_o2c]},{light:[h0Dec_b1],dark:[h0Dec_b2]},[h0Dec_gL1,h0Dec_gL2],[h0Dec_oL1,h0Dec_oL2,h0Dec_oL3,h0Dec_oL4,h0Dec_oL5,h0Dec_oL6]);
drawPair(1,4,{light:[omDec_g1],dark:[omDec_g2]},{light:[omDec_o1,omDec_o3],dark:[omDec_o2a,omDec_o2b,omDec_o2c]},{light:[omDec_b1],dark:[omDec_b2]},[omDec_gL1,omDec_gL2],[omDec_oL1,omDec_oL2,omDec_oL3,omDec_oL4,omDec_oL5]);
drawPair(2,4,{light:[vDec_g1,vDec_g6,vDec_g7],dark:[vDec_g2,vDec_g3,vDec_g5]},{light:[vDec_o1],dark:[vDec_o2a,vDec_o2b,vDec_o2c,vDec_o2d,vDec_o2e,vDec_o2f]},{light:[vDec_b1,vDec_b3,vDec_b4,vDec_b5],dark:[vDec_b2]},[vDec_gL1,vDec_gL2,vDec_gL3,vDec_gL4,vDec_gL5,vDec_gL6,vDec_gL7,vDec_gL8,vDec_gL9,vDec_gL10],[vDec_oL1,vDec_oL2,vDec_oL3],[vDec_hole]);
drawPair(3,4,{light:[raDec_g1,raDec_g4],dark:[raDec_g2,raDec_g3]},{light:[raDec_o1,raDec_o3,raDec_o4,raDec_o5,raDec_o6],dark:[raDec_o2]},{light:[raDec_b1],dark:[raDec_b2]},[raDec_gL1,raDec_gL2,raDec_gL3,raDec_gL4,raDec_gL5],[raDec_oL1],[raDec_hole1,raDec_hole2]);

/* ---------- tick labels ---------- */
[0,1,2,3,4].forEach(xTickLabels);
[1,2,3,4].forEach(yTickLabels);
</script>
</body>
</html>
